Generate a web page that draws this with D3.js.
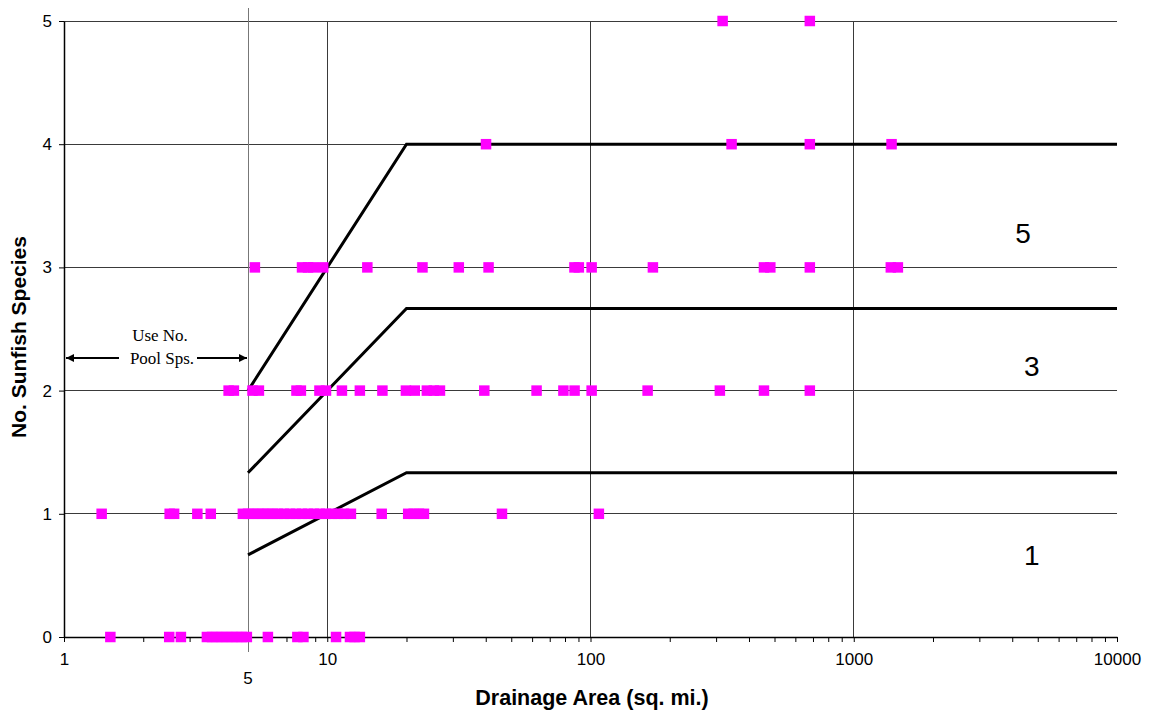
<!DOCTYPE html>
<html>
<head>
<meta charset="utf-8">
<script src="https://cdn.jsdelivr.net/npm/d3@7"></script>
<style>
  html, body { margin: 0; padding: 0; background: #fff; }
  svg { display: block; }
  .tick text { font-family: "Liberation Sans", Arial, sans-serif; font-size: 17px; fill: #000; }
</style>
</head>
<body>
<svg id="chart" width="1149" height="715"></svg>
<script>
// Drainage areas (sq. mi.) of sites, grouped by number of sunfish species found
const areas0 = [1.50, 2.51, 2.78, 3.49, 3.65, 3.81, 3.98, 4.16, 4.35, 4.54, 4.74, 4.95,
                5.95, 7.70, 8.12, 10.8, 12.2, 12.7, 13.3];
const areas1 = [1.39, 2.52, 2.62, 3.21, 3.61, 4.78, 5.00, 5.22, 5.46, 5.70, 5.95, 6.22,
                6.50, 6.85, 7.22, 7.60, 8.02, 8.45, 8.90, 9.38, 9.89, 10.42, 10.98, 11.57,
                12.3, 16.1, 20.3, 21.3, 22.3, 23.3, 46.1, 107.6];
const areas2 = [4.22, 4.42, 5.20, 5.50, 7.64, 7.94, 9.34, 9.89, 11.37, 13.3, 16.2, 19.9,
                21.5, 23.9, 25.4, 26.8, 39.5, 62.4, 78.9, 87.0, 101, 164.8, 310, 456, 681];
const areas3 = [5.31, 8.02, 8.45, 8.82, 9.65, 14.2, 23.0, 31.6, 41.0, 86.9, 90.3, 101,
                172.6, 456, 482, 681, 1383, 1471];
const areas4 = [40.1, 343.5, 681, 1392];
const areas5 = [317.6, 681];
const speciesCounts = [0, 1, 2, 3, 4, 5];

// Scoring boundaries: break points in drainage area and the boundary values there
const boundaryAreas = [5, 20, 10000];
const upperBound  = [2, 4, 4];
const middleBound = [1.333, 2.667, 2.667];
const lowerBound  = [0.667, 1.333, 1.333];

// Score labels for each zone, with their placement in data units
const zoneScores = ["5", "3", "1"];
const zoneLabelArea = [4400, 4750, 4750];
const zoneLabelY = [3.28, 2.2, 0.66];

const majorTicks = [1, 10, 100, 1000, 10000];
const cutoffArea = 5;

const svg = d3.select("#chart");
const plotLeft = 64, plotRight = 1117, plotTop = 21, plotBottom = 637;

const x = d3.scaleLog().domain([1, 10000]).range([plotLeft, plotRight]);
const y = d3.scaleLinear().domain([0, 5]).range([plotBottom, plotTop]);

// horizontal gridlines
svg.append("g")
  .selectAll("line")
  .data(speciesCounts.filter(d => d > 0))
  .join("line")
  .attr("x1", plotLeft).attr("x2", plotRight)
  .attr("y1", d => y(d)).attr("y2", d => y(d))
  .attr("stroke", "#3a3a3a").attr("stroke-width", 1)
  .attr("shape-rendering", "crispEdges");

// vertical gridlines at each decade
svg.append("g")
  .selectAll("line")
  .data(majorTicks.slice(1, -1))
  .join("line")
  .attr("x1", d => x(d)).attr("x2", d => x(d))
  .attr("y1", plotTop).attr("y2", plotBottom)
  .attr("stroke", "#3a3a3a").attr("stroke-width", 1)
  .attr("shape-rendering", "crispEdges");

// the 5 sq. mi. cutoff line
svg.append("line")
  .attr("x1", x(cutoffArea)).attr("x2", x(cutoffArea))
  .attr("y1", 8).attr("y2", 652)
  .attr("stroke", "#777").attr("stroke-width", 1)
  .attr("shape-rendering", "crispEdges");

// x axis: labelled decades, unlabelled minor ticks
const minorTicks = [];
for (let p = 0; p < 4; p++) for (let k = 2; k <= 9; k++) minorTicks.push(k * Math.pow(10, p));

svg.append("g")
  .attr("transform", `translate(0,${plotBottom})`)
  .call(d3.axisBottom(x).tickValues(minorTicks).tickSize(5).tickFormat(""))
  .call(g => g.select(".domain").remove())
  .call(g => g.selectAll("line").attr("stroke", "#000"));

svg.append("g")
  .attr("transform", `translate(0,${plotBottom})`)
  .call(d3.axisBottom(x).tickValues(majorTicks).tickSize(5).tickSizeOuter(0).tickPadding(11)
        .tickFormat(d3.format("d")))
  .call(g => g.select(".domain").attr("stroke", "#000").attr("stroke-width", 1.5))
  .call(g => g.selectAll("line").attr("stroke", "#000"));

svg.append("text")
  .attr("x", x(cutoffArea)).attr("y", 684)
  .attr("text-anchor", "middle")
  .attr("font-family", "Liberation Sans, Arial, sans-serif")
  .attr("font-size", 17)
  .text("5");

// y axis
svg.append("g")
  .attr("transform", `translate(${plotLeft},0)`)
  .call(d3.axisLeft(y).tickValues(speciesCounts).tickSize(5).tickSizeOuter(0).tickPadding(7)
        .tickFormat(d3.format("d")))
  .call(g => g.select(".domain").attr("stroke", "#000").attr("stroke-width", 1.5))
  .call(g => g.selectAll("line").attr("stroke", "#000"));

// axis titles
svg.append("text")
  .attr("x", 592).attr("y", 705)
  .attr("text-anchor", "middle")
  .attr("font-family", "Liberation Sans, Arial, sans-serif")
  .attr("font-weight", "bold").attr("font-size", 21.5)
  .text("Drainage Area (sq. mi.)");

svg.append("text")
  .attr("transform", `translate(26,${(plotTop + plotBottom) / 2 + 8}) rotate(-90)`)
  .attr("text-anchor", "middle")
  .attr("font-family", "Liberation Sans, Arial, sans-serif")
  .attr("font-weight", "bold").attr("font-size", 21)
  .text("No. Sunfish Species");

// scoring boundary lines
const line = d3.line().x(d => x(d[0])).y(d => y(d[1]));
[upperBound, middleBound, lowerBound].forEach(b => {
  svg.append("path")
    .datum(boundaryAreas.map((a, i) => [a, b[i]]))
    .attr("d", line)
    .attr("fill", "none")
    .attr("stroke", "#000")
    .attr("stroke-width", 3);
});

// site markers
const sites = [];
[areas0, areas1, areas2, areas3, areas4, areas5].forEach((arr, n) =>
  arr.forEach(a => sites.push({ area: a, species: speciesCounts[n] })));

const size = 10.5;
svg.append("g")
  .selectAll("rect")
  .data(sites)
  .join("rect")
  .attr("x", d => x(d.area) - size / 2)
  .attr("y", d => y(d.species) - size / 2)
  .attr("width", size).attr("height", size)
  .attr("fill", "#ff00ff");

// zone score labels
svg.append("g")
  .selectAll("text")
  .data(zoneScores)
  .join("text")
  .attr("x", (d, i) => x(zoneLabelArea[i]))
  .attr("y", (d, i) => y(zoneLabelY[i]))
  .attr("dy", "0.35em")
  .attr("text-anchor", "middle")
  .attr("font-family", "Liberation Sans, Arial, sans-serif")
  .attr("font-size", 28)
  .text(d => d);

// "Use No. Pool Sps." annotation with a double-headed arrow
const arrowY = 358;
const defs = svg.append("defs");
defs.append("marker")
  .attr("id", "arrowhead")
  .attr("viewBox", "0 0 10 10")
  .attr("refX", 10).attr("refY", 5)
  .attr("markerWidth", 13).attr("markerHeight", 8)
  .attr("markerUnits", "userSpaceOnUse")
  .attr("orient", "auto")
  .append("path").attr("d", "M0,0 L10,5 L0,10 Z").attr("fill", "#000");

svg.append("line")
  .attr("x1", 119).attr("x2", x(1) + 2)
  .attr("y1", arrowY).attr("y2", arrowY)
  .attr("stroke", "#000").attr("stroke-width", 2)
  .attr("marker-end", "url(#arrowhead)");

svg.append("line")
  .attr("x1", 197).attr("x2", x(cutoffArea) - 1)
  .attr("y1", arrowY).attr("y2", arrowY)
  .attr("stroke", "#000").attr("stroke-width", 2)
  .attr("marker-end", "url(#arrowhead)");

const note = svg.append("text")
  .attr("text-anchor", "middle")
  .attr("font-family", "Liberation Serif, 'Times New Roman', serif")
  .attr("font-size", 17);
note.append("tspan").attr("x", 160).attr("y", 341).text("Use No.");
note.append("tspan").attr("x", 162).attr("y", 364).text("Pool Sps.");
</script>
</body>
</html>
